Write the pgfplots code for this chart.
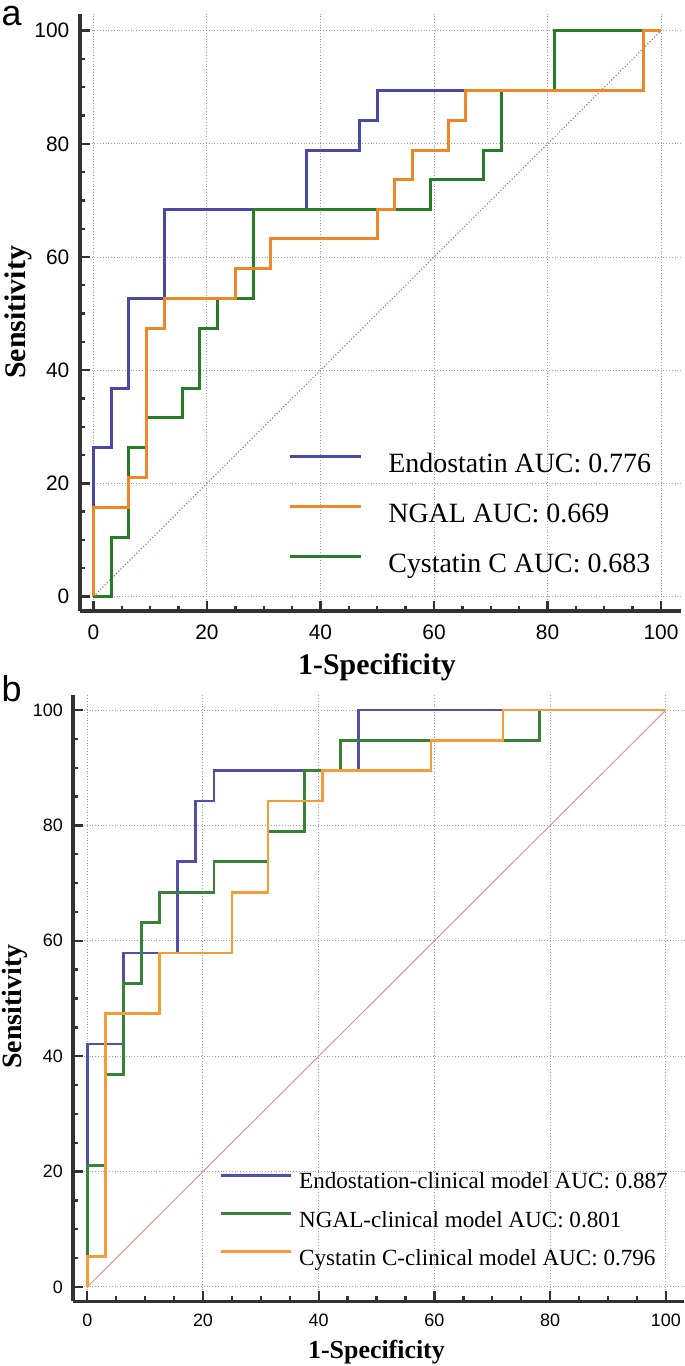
\documentclass[border=0pt]{standalone}
\usepackage{fontspec}
\setmainfont{Liberation Serif}
\setsansfont{Liberation Sans}
\usepackage{pgfplots}
\pgfplotsset{compat=1.18}
\definecolor{cblue}{RGB}{72,72,168}
\definecolor{corange}{RGB}{242,133,38}
\definecolor{cgreen}{RGB}{38,125,38}
\definecolor{bblue}{RGB}{80,80,172}
\definecolor{bgreen}{RGB}{56,130,56}
\definecolor{borange}{RGB}{247,155,55}
\definecolor{diaga}{RGB}{190,120,120}
\definecolor{diagb}{RGB}{215,150,140}
\definecolor{axisgray}{RGB}{50,50,50}
\pgfplotsset{
  rocaxis/.style={
    scale only axis,
    xmin=-2.3, xmax=103.5, ymin=-2.6, ymax=103,
    xtick={0,20,...,100}, ytick={0,20,...,100},
    minor x tick num=3, minor y tick num=3,
    axis x line*=bottom, axis y line*=left,
    axis line style={-, line width=2bp, axisgray},
    tick align=inside,
    major tick length=5bp, minor tick length=2.5bp,
    every tick/.append style={line width=1.2bp, axisgray},
    grid=major,
    major grid style={densely dotted, gray!75, line width=0.5bp},
    /pgf/number format/assume math mode=true,
    legend cell align=left,
  }
}
\begin{document}
\begin{tikzpicture}
\useasboundingbox (0,0) rectangle (342.5bp,-683bp);
\node[font=\sffamily\fontsize{18}{18}\selectfont, inner sep=0] at (5.8bp,-8bp) {a};
\node[font=\sffamily\fontsize{18}{18}\selectfont, inner sep=0] at (5.8bp,-344.5bp) {b};
% ---------------- panel a ----------------
\begin{axis}[rocaxis,
  at={(40.2bp,-305.6bp)}, anchor=south west,
  width=300.25bp, height=298.75bp,
  ticklabel style={font=\sffamily\fontsize{10.5}{10.5}\selectfont},
  xticklabel style={yshift=-3.5bp},
  yticklabel style={xshift=-2bp},
  xlabel={1-Specificity}, ylabel={Sensitivity},
  xlabel style={at={(axis description cs:0.494,-0.093)}, anchor=center, font=\bfseries\fontsize{15}{15}\selectfont},
  ylabel style={at={(axis description cs:-0.104,0.5)}, anchor=center, font=\bfseries\fontsize{15}{15}\selectfont},
  legend style={at={(axis description cs:0.3457,0.2664)}, anchor=north west, draw=none, fill=none, inner sep=0pt,
    row sep=12bp, font=\fontsize{14}{14}\selectfont,
    nodes={inner sep=0pt, text height=10bp, text depth=3bp},
    /tikz/every odd column/.append style={column sep=13bp}},
  legend image code/.code={\draw[#1] (0bp,4.6bp) -- (35.5bp,4.6bp);},
]
\addlegendimage{cblue, line width=1.5bp}
\addlegendentry{Endostatin AUC: 0.776}
\addlegendimage{corange, line width=1.5bp}
\addlegendentry{NGAL AUC: 0.669}
\addlegendimage{cgreen, line width=1.5bp}
\addlegendentry{Cystatin C AUC: 0.683}
\addplot[forget plot, diaga, line width=0.6bp, densely dotted] coordinates {(0,0) (100,100)};
\addplot[forget plot, cblue, line width=1.5bp] coordinates {
(0,0)(0,26.3)(3.125,26.3)(3.125,36.8)(6.25,36.8)(6.25,52.6)(12.5,52.6)(12.5,68.4)(37.5,68.4)(37.5,78.9)(46.875,78.9)(46.875,84.2)(50,84.2)(50,89.5)(96.875,89.5)(96.875,100)(100,100)};
\addplot[forget plot, cgreen, line width=1.5bp] coordinates {
(0,0)(3.125,0)(3.125,10.5)(6.25,10.5)(6.25,26.3)(9.375,26.3)(9.375,31.6)(15.625,31.6)(15.625,36.8)(18.75,36.8)(18.75,47.4)(21.875,47.4)(21.875,52.6)(28.125,52.6)(28.125,68.4)(59.375,68.4)(59.375,73.7)(68.75,73.7)(68.75,78.9)(71.875,78.9)(71.875,89.5)(81.25,89.5)(81.25,100)(100,100)};
\addplot[forget plot, corange, line width=1.5bp] coordinates {
(0,0)(0,15.8)(6.25,15.8)(6.25,21.1)(9.375,21.1)(9.375,47.4)(12.5,47.4)(12.5,52.6)(25,52.6)(25,57.9)(31.25,57.9)(31.25,63.2)(50,63.2)(50,68.4)(53.125,68.4)(53.125,73.7)(56.25,73.7)(56.25,78.9)(62.5,78.9)(62.5,84.2)(65.625,84.2)(65.625,89.5)(96.875,89.5)(96.875,100)(100,100)};
\end{axis}
% ---------------- panel b ----------------
\begin{axis}[rocaxis,
  xmin=-2.5, xmax=103.1, ymin=-2.5, ymax=102.6,
  at={(36.4bp,-650.7bp)}, anchor=south west,
  width=305.5bp, height=303.2bp,
  axis line style={-, line width=1.7bp, axisgray},
  ticklabel style={font=\sffamily\fontsize{9}{9}\selectfont},
  xticklabel style={yshift=-3bp},
  yticklabel style={xshift=-1.5bp},
  xlabel={1-Specificity}, ylabel={Sensitivity},
  xlabel style={at={(axis description cs:0.497,-0.083)}, anchor=center, font=\bfseries\fontsize{13}{13}\selectfont},
  ylabel style={at={(axis description cs:-0.095,0.486)}, anchor=center, font=\bfseries\fontsize{14}{14}\selectfont},
  legend style={at={(axis description cs:0.2396,0.2135)}, anchor=north west, draw=none, fill=none, inner sep=0pt,
    row sep=8.25bp, font=\fontsize{11.6}{11.6}\selectfont,
    nodes={inner sep=0pt, text height=8.3bp, text depth=2.5bp},
    /tikz/every odd column/.append style={column sep=3.5bp}},
  legend image code/.code={\draw[#1] (0bp,3.8bp) -- (35bp,3.8bp);},
]
\addlegendimage{bblue, line width=1.3bp}
\addlegendentry{Endostation-clinical model AUC: 0.887}
\addlegendimage{bgreen, line width=1.3bp}
\addlegendentry{NGAL-clinical model AUC: 0.801}
\addlegendimage{borange, line width=1.3bp}
\addlegendentry{Cystatin C-clinical model AUC: 0.796}
\addplot[forget plot, diagb, line width=0.5bp] coordinates {(0,0) (100,100)};
\addplot[forget plot, bblue, line width=1.3bp] coordinates {
(0,0)(0,42.1)(6.25,42.1)(6.25,57.9)(15.625,57.9)(15.625,73.7)(18.75,73.7)(18.75,84.2)(21.875,84.2)(21.875,89.5)(46.875,89.5)(46.875,100)(100,100)};
\addplot[forget plot, bgreen, line width=1.3bp] coordinates {
(0,0)(0,21.1)(3.125,21.1)(3.125,36.8)(6.25,36.8)(6.25,52.6)(9.375,52.6)(9.375,63.2)(12.5,63.2)(12.5,68.4)(21.875,68.4)(21.875,73.7)(31.25,73.7)(31.25,78.9)(37.5,78.9)(37.5,89.5)(43.75,89.5)(43.75,94.7)(78.125,94.7)(78.125,100)(100,100)};
\addplot[forget plot, borange, line width=1.3bp] coordinates {
(0,0)(0,5.3)(3.125,5.3)(3.125,47.4)(12.5,47.4)(12.5,57.9)(25,57.9)(25,68.4)(31.25,68.4)(31.25,84.2)(40.625,84.2)(40.625,89.5)(59.375,89.5)(59.375,94.7)(71.875,94.7)(71.875,100)(100,100)};
\end{axis}
\end{tikzpicture}
\end{document}
